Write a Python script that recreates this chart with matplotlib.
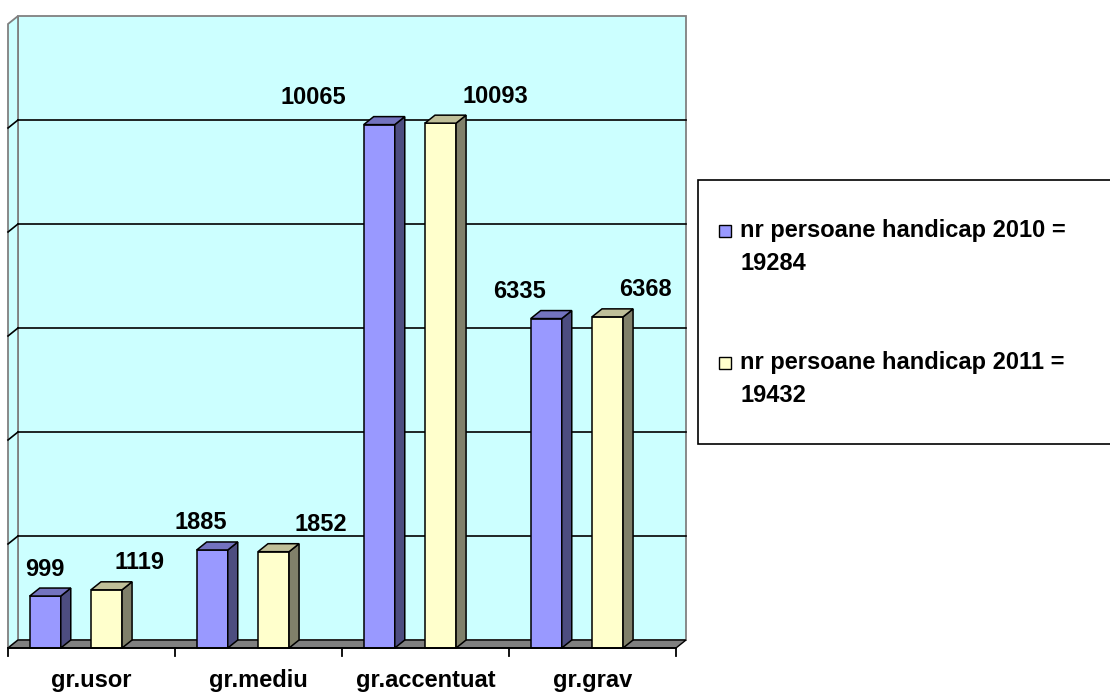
import numpy as np
import matplotlib.pyplot as plt
from matplotlib.patches import Polygon, Rectangle

plt.rcParams['font.family'] = ['Liberation Sans', 'DejaVu Sans']
plt.rcParams['font.weight'] = 'bold'

# data
categories = ['gr.usor', 'gr.mediu', 'gr.accentuat', 'gr.grav']
values_2010 = [999, 1885, 10065, 6335]
values_2011 = [1119, 1852, 10093, 6368]
legend_labels = [['nr persoane handicap 2010 =', '19284'],
                 ['nr persoane handicap 2011 =', '19432']]
grid_values = [2000, 4000, 6000, 8000, 10000]
y_max = 12000

# style
front_colors = ['#9999FF', '#FFFFCC']
side_colors = ['#4D4D80', '#80806A']
top_colors = ['#7373BF', '#BFBF99']
wall_color = '#CCFFFF'
edge_gray = '#808080'

bar_left = [0.13, 0.497]      # offset of each series inside a category
bar_w = 0.186
# horizontal nudge of the value labels (category units)
label_dx = [[-0.003, -0.066, -0.395, -0.162],
            [0.198, 0.281, 0.329, 0.228]]

W, H = 1110, 693
fig = plt.figure(figsize=(W / 100, H / 100), dpi=100)
fig.patch.set_facecolor('white')

# front plane: x 0..4 -> px 8..676, y 0..12000 -> px 648..24
ax = fig.add_axes([8 / W, (H - 648) / H, 668 / W, 624 / H])
ax.set_xlim(0, 4)
ax.set_ylim(0, y_max)
ax.axis('off')

DX = 10 / 167.0          # depth offset in category units
DY = 8 / (624 / y_max)   # depth offset in value units
n = len(categories)

# back wall and side wall
ax.add_patch(Polygon([(DX, DY), (n + DX, DY), (n + DX, y_max + DY), (DX, y_max + DY)],
                     closed=True, facecolor=wall_color, edgecolor=edge_gray,
                     lw=1.3, clip_on=False, zorder=1))
ax.add_patch(Polygon([(0, 0), (DX, DY), (DX, y_max + DY), (0, y_max)],
                     closed=True, facecolor=wall_color, edgecolor=edge_gray,
                     lw=1.3, clip_on=False, zorder=1))

for g in grid_values:
    ax.plot([DX, n + DX], [g + DY, g + DY], color='black', lw=1.2, clip_on=False, zorder=2)
    ax.plot([0, DX], [g, g + DY], color='black', lw=1.2, clip_on=False, zorder=2)

# floor
ax.add_patch(Polygon([(0, 0), (n, 0), (n + DX, DY), (DX, DY)], closed=True,
                     facecolor=edge_gray, edgecolor='black', lw=1.0,
                     clip_on=False, zorder=3))

# bars
for s, vals in enumerate([values_2010, values_2011]):
    for i, v in enumerate(vals):
        x0 = i + bar_left[s]
        x1 = x0 + bar_w
        front = Polygon([(x0, 0), (x1, 0), (x1, v), (x0, v)], closed=True,
                        facecolor=front_colors[s], edgecolor='black', lw=1.1,
                        clip_on=False, zorder=4)
        side = Polygon([(x1, 0), (x1 + DX, DY), (x1 + DX, v + DY), (x1, v)], closed=True,
                       facecolor=side_colors[s], edgecolor='black', lw=1.1,
                       clip_on=False, zorder=4)
        top = Polygon([(x0, v), (x1, v), (x1 + DX, v + DY), (x0 + DX, v + DY)], closed=True,
                      facecolor=top_colors[s], edgecolor='black', lw=1.1,
                      clip_on=False, zorder=4)
        for p in (front, side, top):
            ax.add_patch(p)
        ax.text(x0 + bar_w / 2 + label_dx[s][i], v + 520, str(v),
                ha='center', va='center', fontsize=17, fontweight='bold', zorder=6)

# front axis line with ticks
tick_len = 8 / (624 / y_max)
ax.plot([0, n], [0, 0], color='black', lw=1.3, clip_on=False, zorder=5)
for i in range(n + 1):
    ax.plot([i, i], [0, -tick_len], color='black', lw=1.3, clip_on=False, zorder=5)
for i, c in enumerate(categories):
    ax.text(i + 0.5, -32 / (624 / y_max), c, ha='center', va='center',
            fontsize=17, fontweight='bold')

# legend drawn in pixel coordinates
lg = fig.add_axes([0, 0, 1, 1])
lg.set_xlim(0, W)
lg.set_ylim(H, 0)
lg.axis('off')
lg.patch.set_alpha(0)
lg.add_patch(Rectangle((698, 180), 450, 264, facecolor='white', edgecolor='black', lw=1.2))
entry_y = [231, 363]
for s, (l1, l2) in enumerate(legend_labels):
    y = entry_y[s]
    lg.add_patch(Rectangle((719, y - 6), 12, 12, facecolor=front_colors[s],
                           edgecolor='black', lw=1.0))
    lg.text(740, y, l1, ha='left', va='center', fontsize=17, fontweight='bold')
    lg.text(740, y + 33, l2, ha='left', va='center', fontsize=17, fontweight='bold')

fig.savefig('out.png', dpi=100)
